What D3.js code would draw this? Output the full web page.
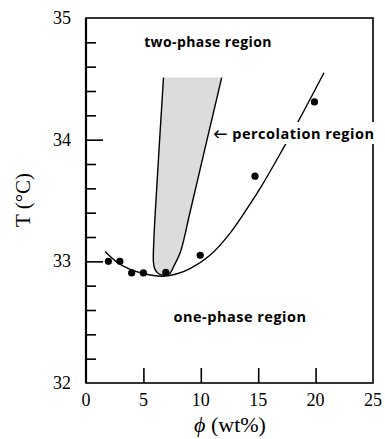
<!DOCTYPE html>
<html><head><meta charset="utf-8">
<script src="https://cdn.jsdelivr.net/npm/d3@7"></script>
<style>body{margin:0;background:#fff}</style>
</head><body>
<svg id="c" width="385" height="439"></svg>
<script>
// measured data points (phi wt%, T °C)
const pointPhi = [1.95, 2.95, 3.98, 5.0, 6.95, 9.95, 14.72, 19.9];
const pointT   = [33.0, 33.0, 32.905, 32.905, 32.91, 33.05, 33.70, 34.31];
// coexistence curve
const curvePhi = [1.66, 2.6, 3.7, 5.0, 6.6, 8.0, 9.06, 10.8, 12.54, 14.29, 15.3, 17.19, 18.49, 20.73];
const curveT   = [33.08, 33.0, 32.94, 32.9, 32.878, 32.9, 32.94, 33.05, 33.23, 33.47, 33.62, 33.93, 34.15, 34.55];
// percolation region boundary (left side top->tip, right side tip->top)
const percPhi = [6.75, 6.0, 5.9, 5.87, 5.98, 6.3, 6.9, 7.3, 7.65, 8.2, 8.65, 8.93, 11.82];
const percT   = [34.51, 33.35, 33.15, 33.0, 32.94, 32.9, 32.886, 32.9, 32.96, 33.07, 33.23, 33.35, 34.51];
const xTicks = [0, 5, 10, 15, 20, 25];
const yTicks = [32, 33, 34, 35];
const yMinor = [32.2, 32.4, 32.6, 32.8, 33.2, 33.4, 33.6, 33.8, 34.2, 34.4, 34.6, 34.8];
const labels = ["two-phase region", "percolation region", "one-phase region"];

const svg = d3.select("#c");
const L = 86, R = 373, T = 18, B = 383;
const x = d3.scaleLinear().domain([0, 25]).range([L, R]);
const y = d3.scaleLinear().domain([32, 35]).range([B, T]);

// shaded percolation region
const perc = percPhi.map((p, i) => [p, percT[i]]);
const line = d3.line().x(d => x(d[0])).y(d => y(d[1])).curve(d3.curveCatmullRom.alpha(0.5));
svg.append("path").attr("d", line(perc) + "Z")
  .attr("fill", "#dcdcdc").attr("stroke", "none");
svg.append("path").attr("d", line(perc))
  .attr("fill", "none").attr("stroke", "#000").attr("stroke-width", 1.4);

// coexistence curve
const curve = curvePhi.map((p, i) => [p, curveT[i]]);
svg.append("path").attr("d", d3.line().x(d => x(d[0])).y(d => y(d[1])).curve(d3.curveCatmullRom.alpha(0.5))(curve))
  .attr("fill", "none").attr("stroke", "#000").attr("stroke-width", 1.4);

// points
svg.selectAll("circle.pt").data(pointPhi).join("circle")
  .attr("cx", d => x(d)).attr("cy", (d, i) => y(pointT[i])).attr("r", 3.6).attr("fill", "#000");

// frame
svg.append("rect").attr("x", L).attr("y", T).attr("width", R - L).attr("height", B - T)
  .attr("fill", "none").attr("stroke", "#000").attr("stroke-width", 1.6);
svg.append("line").attr("x1", L).attr("x2", L).attr("y1", T).attr("y2", B)
  .attr("stroke", "#000").attr("stroke-width", 2.2);

// ticks
function tickGroup(axis, tr) {
  const g = svg.append("g").attr("transform", tr).call(axis);
  g.select(".domain").remove();
  g.selectAll("text").remove();
  g.selectAll("line").attr("stroke-width", 1.6);
}
tickGroup(d3.axisBottom(x).tickValues(xTicks.slice(1, -1)).tickSizeInner(-15).tickSizeOuter(0), `translate(0,${B})`);
tickGroup(d3.axisLeft(y).tickValues(yTicks.slice(1, -1)).tickSizeInner(-17).tickSizeOuter(0), `translate(${L},0)`);
tickGroup(d3.axisLeft(y).tickValues(yMinor).tickSizeInner(-10).tickSizeOuter(0), `translate(${L},0)`);

// tick labels
const serif = "'Liberation Serif', 'DejaVu Serif', serif";
svg.selectAll("text.xt").data(xTicks).join("text")
  .attr("x", d => x(d)).attr("y", 406).attr("text-anchor", "middle")
  .attr("font-family", serif).attr("font-size", 18).text(d => d);
svg.selectAll("text.yt").data(yTicks).join("text")
  .attr("x", 71).attr("y", d => y(d) + 6).attr("text-anchor", "end")
  .attr("font-family", serif).attr("font-size", 18).text(d => d);

// axis titles
svg.append("text").attr("x", 230).attr("y", 432).attr("text-anchor", "middle")
  .attr("font-family", serif).attr("font-size", 22)
  .html('<tspan font-style="italic">ϕ</tspan> (wt%)');
svg.append("text").attr("transform", "translate(30,200) rotate(-90)").attr("text-anchor", "middle")
  .attr("font-family", serif).attr("font-size", 21).text("T (°C)");

// region labels
const sans = "'Open Sans', Lato, sans-serif";
svg.append("text").attr("x", 208).attr("y", 47).attr("text-anchor", "middle")
  .attr("font-family", sans).attr("font-weight", "bold").attr("font-size", 14)
  .attr("letter-spacing", 0.4).text(labels[0]);
const bgRect = svg.append("rect").attr("fill", "#fff");
const pl = svg.append("text").attr("x", 213).attr("y", 139)
  .attr("font-family", sans).attr("font-weight", "bold").attr("font-size", 14.5)
  .attr("letter-spacing", 0.5).text("← " + labels[1]);
const bb = pl.node().getBBox();
bgRect.attr("x", bb.x + 12).attr("y", bb.y - 2).attr("width", bb.width - 10).attr("height", bb.height + 3);
svg.append("text").attr("x", 240).attr("y", 322).attr("text-anchor", "middle")
  .attr("font-family", sans).attr("font-weight", "bold").attr("font-size", 14.5)
  .attr("letter-spacing", 0.5).text(labels[2]);
</script>
</body></html>
